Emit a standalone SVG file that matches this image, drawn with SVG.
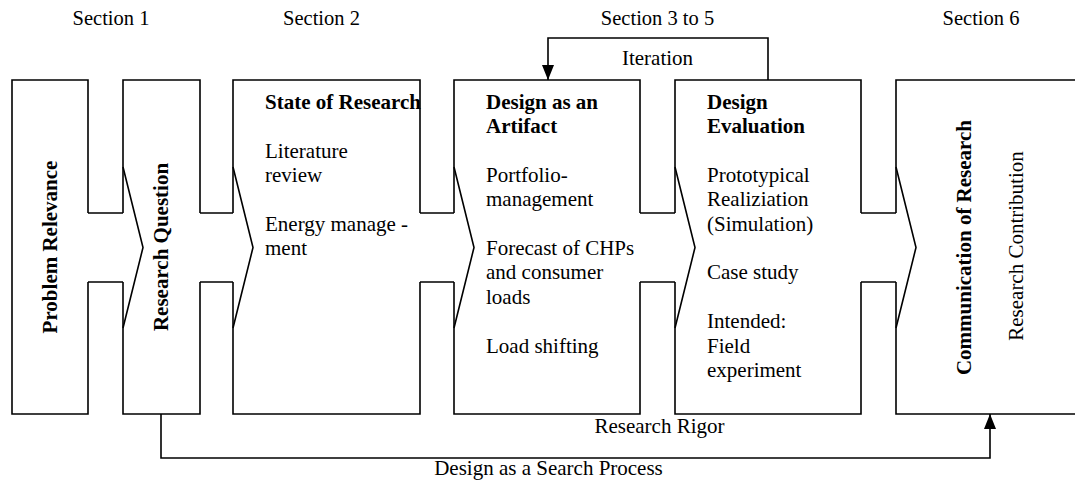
<svg xmlns="http://www.w3.org/2000/svg" width="1075" height="484" viewBox="0 0 1075 484">
<style>
  .box { fill: none; stroke: #000; stroke-width: 1.6; stroke-linejoin: miter; }
  .conn { fill: none; stroke: #000; stroke-width: 1.6; }
  text { font-family: "Liberation Serif", "Times New Roman", serif; font-size: 21px; fill: #000; }
  .b { font-weight: bold; }
  .sec { font-size: 20.5px; }
  .mid { text-anchor: middle; }
</style>
<defs>
  <marker id="ah" markerUnits="userSpaceOnUse" markerWidth="16" markerHeight="12" refX="15" refY="6" orient="auto">
    <path d="M0,0 L15,6 L0,12 Z" fill="#000"/>
  </marker>
</defs>
<rect width="1075" height="484" fill="#fff"/>

<g id="section-labels">
  <text class="sec mid" x="111" y="25">Section 1</text>
  <text class="sec mid" x="321.5" y="25">Section 2</text>
  <text class="sec mid" x="657.5" y="25">Section 3 to 5</text>
  <text class="sec mid" x="981" y="25">Section 6</text>
</g>

<g id="connectors">
  <!-- bands between boxes -->
  <path class="conn" d="M88,213 H123 M88,282 H123"/>
  <path class="conn" d="M200,213 H233 M200,282 H233"/>
  <path class="conn" d="M420,213 H454 M420,282 H454"/>
  <path class="conn" d="M640,213 H675 M640,282 H675"/>
  <path class="conn" d="M861,213 H896 M861,282 H896"/>
  <!-- chevrons -->
  <polyline class="conn" points="123,167 143,247.5 123,328"/>
  <polyline class="conn" points="233,167 253,247.5 233,328"/>
  <polyline class="conn" points="454,167 474,247.5 454,328"/>
  <polyline class="conn" points="675,167 695,247.5 675,328"/>
  <polyline class="conn" points="896,167 916,247.5 896,328"/>
  <!-- iteration loop -->
  <path class="conn" d="M768,80 V38 H548 V80" marker-end="url(#ah)"/>
  <text class="mid" x="657.5" y="65">Iteration</text>
  <!-- search process -->
  <path class="conn" d="M161,414 V458 H990 V414" marker-end="url(#ah)"/>
  <text class="mid" x="659.5" y="433">Research Rigor</text>
  <text class="mid" x="548.5" y="475">Design as a Search Process</text>
</g>

<g id="problem-relevance">
  <path class="box" d="M88,213 V80 H12 V414 H88 V282"/>
  <text class="b mid" transform="translate(57,247) rotate(-90)">Problem Relevance</text>
</g>

<g id="research-question">
  <path class="box" d="M123,213 V80 H200 V213 M200,282 V414 H123 V282"/>
  <text class="b mid" transform="translate(167.5,247) rotate(-90)">Research Question</text>
</g>

<g id="state-of-research">
  <path class="box" d="M233,213 V80 H420 V213 M420,282 V414 H233 V282"/>
  <text class="b" x="265" y="109">State of Research</text>
  <text x="265" y="158">Literature</text>
  <text x="265" y="182">review</text>
  <text x="265" y="231" textLength="143" lengthAdjust="spacing">Energy manage -</text>
  <text x="265" y="255">ment</text>
</g>

<g id="design-artifact">
  <path class="box" d="M454,213 V80 H640 V213 M640,282 V414 H454 V282"/>
  <text class="b" x="486" y="109">Design as an</text>
  <text class="b" x="486" y="133">Artifact</text>
  <text x="486" y="182">Portfolio-</text>
  <text x="486" y="206">management</text>
  <text x="486" y="255">Forecast of CHPs</text>
  <text x="486" y="279">and consumer</text>
  <text x="486" y="304">loads</text>
  <text x="486" y="353">Load shifting</text>
</g>

<g id="design-evaluation">
  <path class="box" d="M675,213 V80 H861 V213 M861,282 V414 H675 V282"/>
  <text class="b" x="707" y="109">Design</text>
  <text class="b" x="707" y="133">Evaluation</text>
  <text x="707" y="182">Prototypical</text>
  <text x="707" y="206">Realiziation</text>
  <text x="707" y="231">(Simulation)</text>
  <text x="707" y="279">Case study</text>
  <text x="707" y="328">Intended:</text>
  <text x="707" y="353">Field</text>
  <text x="707" y="377">experiment</text>
</g>

<g id="communication">
  <path class="box" d="M896,213 V80 H1076 M1076,414 H896 V282"/>
  <text class="b mid" transform="translate(971,247.5) rotate(-90)">Communication of Research</text>
  <text class="mid" transform="translate(1023,246) rotate(-90)">Research Contribution</text>
</g>
</svg>
